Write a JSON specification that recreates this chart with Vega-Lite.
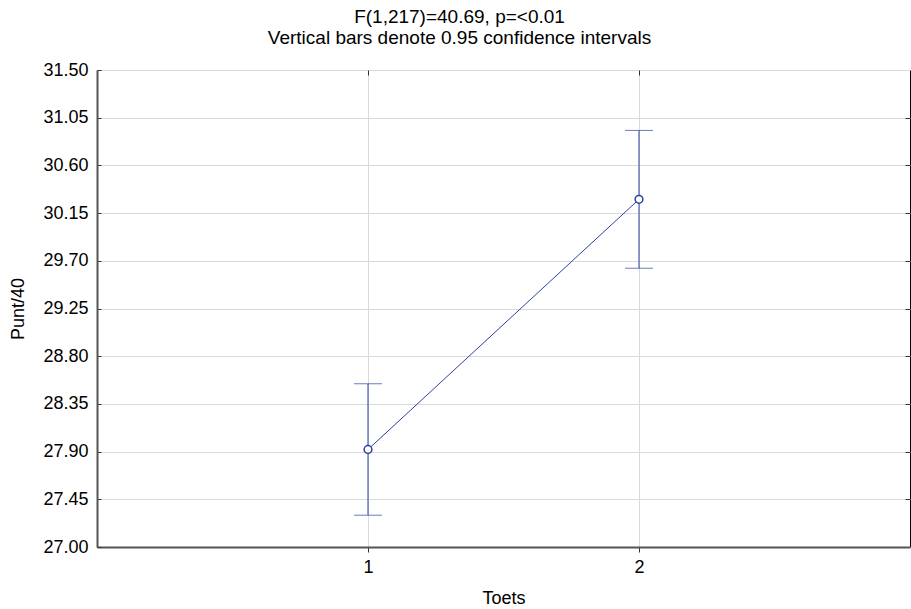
{
  "$schema": "https://vega.github.io/schema/vega-lite/v6.json",
  "width": 813,
  "height": 477,
  "autosize": "none",
  "padding": {"left": 97, "top": 70, "right": 1, "bottom": 62},
  "background": "white",
  "title": {
    "text": "F(1,217)=40.69, p=<0.01",
    "subtitle": "Vertical bars denote 0.95 confidence intervals",
    "anchor": "middle",
    "dx": -44,
    "offset": 13,
    "font": "Liberation Sans",
    "fontSize": 19,
    "fontWeight": "normal",
    "color": "#000",
    "subtitleFont": "Liberation Sans",
    "subtitleFontSize": 19,
    "subtitleColor": "#000",
    "subtitlePadding": 2
  },
  "config": {
    "view": {"stroke": "#000", "strokeWidth": 1},
    "axis": {
      "labelFont": "Liberation Sans",
      "labelFontSize": 18,
      "labelColor": "#000",
      "titleFont": "Liberation Sans",
      "titleFontSize": 18,
      "titleFontWeight": "normal",
      "titleColor": "#000",
      "gridColor": "#d9d9d9",
      "gridWidth": 1,
      "domainColor": "#555",
      "domainWidth": 2,
      "tickColor": "#333"
    }
  },
  "data": {
    "values": [
      {"toets": 1, "mean": 27.92, "lo": 27.30, "hi": 28.54},
      {"toets": 2, "mean": 30.28, "lo": 29.63, "hi": 30.93}
    ]
  },
  "resolve": {"axis": {"x": "independent", "y": "independent"}},
  "layer": [
    {
      "mark": {"type": "line", "color": "#2b43a3", "strokeWidth": 1},
      "encoding": {
        "x": {
          "field": "toets", "type": "quantitative",
          "scale": {"domain": [0, 3], "nice": false, "zero": false},
          "axis": {"title": "Toets", "values": [1, 2], "format": "d", "tickSize": 5, "labelPadding": 6, "titlePadding": 13}
        },
        "y": {
          "field": "mean", "type": "quantitative",
          "scale": {"domain": [27, 31.5], "nice": false, "zero": false},
          "axis": {"title": "Punt/40", "values": [27, 27.45, 27.9, 28.35, 28.8, 29.25, 29.7, 30.15, 30.6, 31.05, 31.5], "format": ".2f", "tickSize": -4, "labelPadding": 13, "titlePadding": 15}
        }
      }
    },
    {
      "mark": {"type": "rule", "color": "#2b43a3", "strokeWidth": 1},
      "encoding": {
        "x": {"field": "toets", "type": "quantitative", "axis": null},
        "y": {"field": "lo", "type": "quantitative", "axis": null},
        "y2": {"field": "hi"}
      }
    },
    {
      "mark": {"type": "tick", "orient": "horizontal", "color": "#2b43a3", "size": 28, "thickness": 1},
      "encoding": {
        "x": {"field": "toets", "type": "quantitative", "axis": null},
        "y": {"field": "lo", "type": "quantitative", "axis": null}
      }
    },
    {
      "mark": {"type": "tick", "orient": "horizontal", "color": "#2b43a3", "size": 28, "thickness": 1},
      "encoding": {
        "x": {"field": "toets", "type": "quantitative", "axis": null},
        "y": {"field": "hi", "type": "quantitative", "axis": null}
      }
    },
    {
      "mark": {"type": "point", "shape": "circle", "filled": false, "color": "#2b43a3", "size": 60, "strokeWidth": 1.5, "fill": "white", "fillOpacity": 1},
      "encoding": {
        "x": {"field": "toets", "type": "quantitative", "axis": null},
        "y": {"field": "mean", "type": "quantitative", "axis": null}
      }
    },
    {
      "mark": {"type": "point", "opacity": 0},
      "encoding": {
        "x": {"field": "toets", "type": "quantitative",
          "axis": {"orient": "top", "title": null, "labels": false, "grid": false, "domain": false, "values": [1, 2], "tickSize": -5}},
        "y": {"field": "mean", "type": "quantitative",
          "axis": {"orient": "right", "title": null, "labels": false, "grid": false, "domain": false, "values": [27.45, 27.9, 28.35, 28.8, 29.25, 29.7, 30.15, 30.6, 31.05], "tickSize": -5}}
      }
    }
  ]
}
